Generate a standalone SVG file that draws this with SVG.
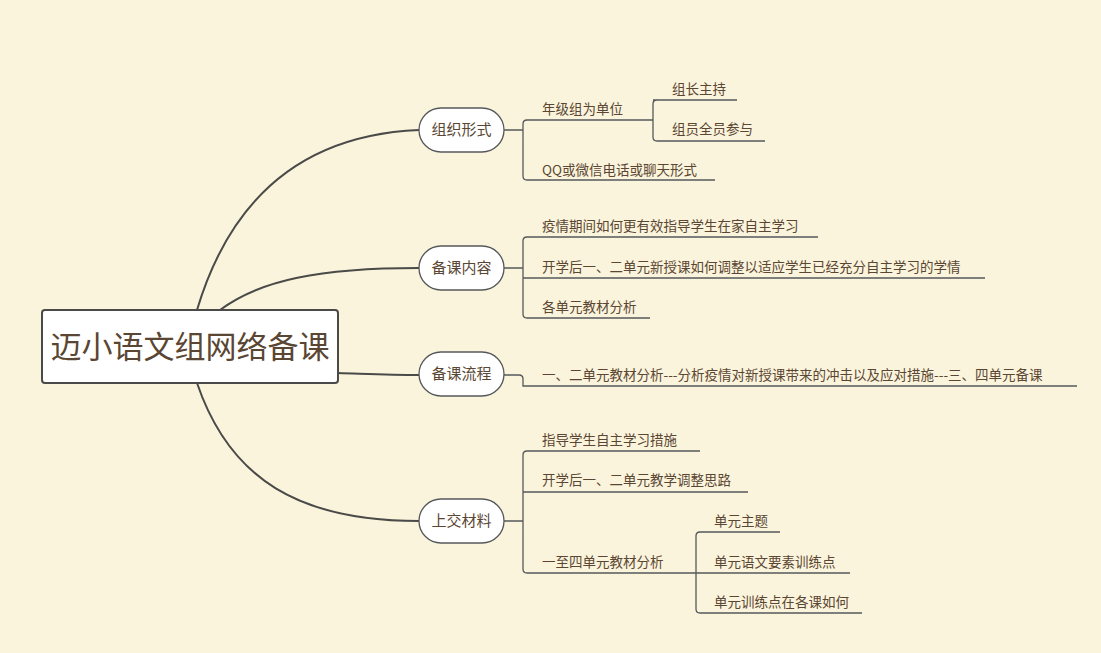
<svg xmlns="http://www.w3.org/2000/svg" width="1101" height="653" viewBox="0 0 1101 653">
<style>
text{font-family:"Noto Sans CJK SC","Liberation Sans",sans-serif;fill:#5a4632}
.t{font-size:13.5px}
.m{font-size:15px;text-anchor:middle}
.c{fill:none;stroke:#4a4a48;stroke-width:2}
.b{fill:none;stroke:#55585a;stroke-width:1.3}
.n{fill:#fff;stroke:#55585a;stroke-width:1.3}
</style>
<rect width="1101" height="653" fill="#fbf4dc"/>
<g id="connectors">
<path class="c" d="M197 310 C230 200 300 135 419 130"/>
<path class="c" d="M220 310 C260 280 320 268 419 268"/>
<path class="c" d="M338 373 C370 374 390 375 419 375"/>
<path class="c" d="M197 383 C230 480 300 521 419 521"/>
<path class="b" d="M504 130 H523 M527 120 Q523 120 523 124 V176 Q523 180 527 180 H715 M527 120 H653 M657 100 Q653 100 653 104 V137 Q653 141 657 141 H765 M653 100 H737"/>
<path class="b" d="M504 268 H523 M527 237 Q523 237 523 241 V314 Q523 318 527 318 H650 M527 237 H818 M523 278 H985"/>
<path class="b" d="M504 375 H519 Q523 375 523 379 V386 H1077"/>
<path class="b" d="M504 521 H523 M527 451 Q523 451 523 455 V569 Q523 573 527 573 H677 M527 451 H700 M523 492 H748 M677 573 H696 M700 532 Q696 532 696 536 V609 Q696 613 700 613 H862 M700 532 H780 M696 573 H850"/>
</g>
<g id="root"><rect x="42" y="310" width="296" height="73" rx="3" fill="#fff" stroke="#4a4a48" stroke-width="2"/><text x="190" y="358" font-size="31" text-anchor="middle">迈小语文组网络备课</text></g>
<g id="n1"><rect class="n" x="419" y="108" width="85" height="44" rx="22"/><text class="m" x="461.5" y="135">组织形式</text></g>
<g id="n2"><rect class="n" x="419" y="246" width="85" height="44" rx="22"/><text class="m" x="461.5" y="273">备课内容</text></g>
<g id="n3"><rect class="n" x="419" y="352" width="85" height="44" rx="22"/><text class="m" x="461.5" y="379">备课流程</text></g>
<g id="n4"><rect class="n" x="419" y="499" width="85" height="44" rx="22"/><text class="m" x="461.5" y="526">上交材料</text></g>
<g id="leaves">
<text class="t" x="542" y="114">年级组为单位</text>
<text class="t" x="672" y="94">组长主持</text>
<text class="t" x="672" y="134">组员全员参与</text>
<text class="t" x="542" y="175">QQ或微信电话或聊天形式</text>
<text class="t" x="542" y="231">疫情期间如何更有效指导学生在家自主学习</text>
<text class="t" x="542" y="272">开学后一、二单元新授课如何调整以适应学生已经充分自主学习的学情</text>
<text class="t" x="542" y="312">各单元教材分析</text>
<text class="t" x="542" y="380">一、二单元教材分析---分析疫情对新授课带来的冲击以及应对措施---三、四单元备课</text>
<text class="t" x="542" y="445">指导学生自主学习措施</text>
<text class="t" x="542" y="485">开学后一、二单元教学调整思路</text>
<text class="t" x="542" y="567">一至四单元教材分析</text>
<text class="t" x="714" y="526">单元主题</text>
<text class="t" x="714" y="567">单元语文要素训练点</text>
<text class="t" x="714" y="607">单元训练点在各课如何</text>
</g>
</svg>
